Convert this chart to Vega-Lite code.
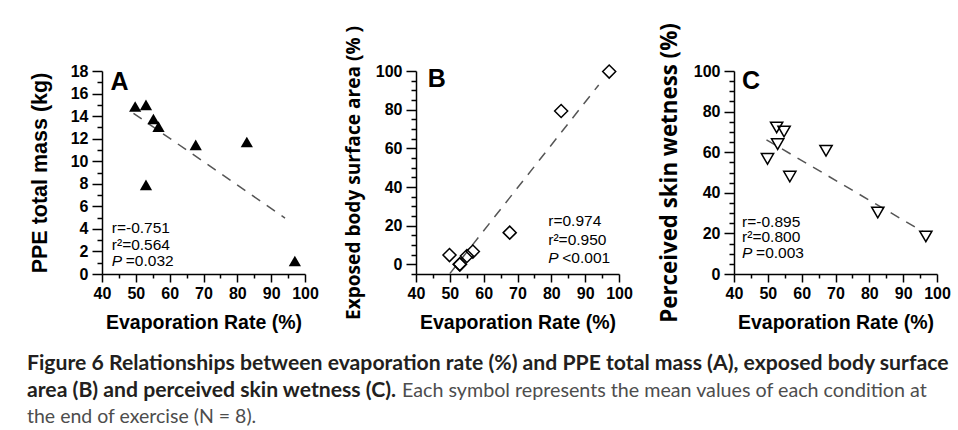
{
  "$schema": "https://vega.github.io/schema/vega-lite/v6.json",
  "background": "white",
  "padding": {"left": 27, "top": 22, "right": 0, "bottom": 0},
  "datasets": {
    "pts": [
      {"panel": "A", "evap": 49.8, "value": 14.85},
      {"panel": "A", "evap": 53.0, "value": 15.0},
      {"panel": "A", "evap": 53.0, "value": 7.9},
      {"panel": "A", "evap": 55.2, "value": 13.75},
      {"panel": "A", "evap": 56.7, "value": 13.07},
      {"panel": "A", "evap": 67.7, "value": 11.45},
      {"panel": "A", "evap": 82.8, "value": 11.7},
      {"panel": "A", "evap": 97.0, "value": 1.15},
      {"panel": "B", "evap": 49.9, "value": 4.8},
      {"panel": "B", "evap": 52.9, "value": 0.0},
      {"panel": "B", "evap": 53.0, "value": 0.0},
      {"panel": "B", "evap": 55.05, "value": 4.3},
      {"panel": "B", "evap": 56.8, "value": 6.6},
      {"panel": "B", "evap": 67.7, "value": 16.4},
      {"panel": "B", "evap": 82.9, "value": 79.3},
      {"panel": "B", "evap": 97.1, "value": 99.7},
      {"panel": "C", "evap": 49.9, "value": 56.7},
      {"panel": "C", "evap": 52.6, "value": 72.2},
      {"panel": "C", "evap": 52.9, "value": 64.0},
      {"panel": "C", "evap": 54.8, "value": 70.2},
      {"panel": "C", "evap": 56.5, "value": 48.0},
      {"panel": "C", "evap": 67.2, "value": 60.7},
      {"panel": "C", "evap": 82.5, "value": 30.3},
      {"panel": "C", "evap": 96.7, "value": 18.5}
    ],
    "fit": [
      {"panel": "A", "evap": 49.3, "value": 14.25},
      {"panel": "A", "evap": 94.1, "value": 4.96},
      {"panel": "B", "evap": 50.0, "value": -4.8},
      {"panel": "B", "evap": 94.0, "value": 92.8},
      {"panel": "C", "evap": 49.6, "value": 66.1},
      {"panel": "C", "evap": 95.7, "value": 21.0}
    ],
    "caption": [
      {"line": 1, "part": "lead", "text": "Figure 6 Relationships between evaporation rate (%) and PPE total mass (A), exposed body surface"},
      {"line": 2, "part": "lead", "text": "area (B) and perceived skin wetness (C)."},
      {"line": 2, "part": "body", "text": "Each symbol represents the mean values of each condition at"},
      {"line": 3, "part": "body", "text": "the end of exercise (N = 8)."}
    ]
  },
  "vconcat": [
    {
      "hconcat": [
        {
          "width": 203, "height": 203,
          "resolve": {"axis": {"x": "independent", "y": "independent"}},
          "layer": [
            {
              "data": {"name": "fit"},
              "transform": [{"filter": "datum.panel === 'A'"}],
              "mark": {"type": "line", "strokeDash": [10, 8], "color": "#555555", "strokeWidth": 1.5},
              "encoding": {
                "x": {"field": "evap", "type": "quantitative", "scale": {"domain": [40, 100], "nice": false, "zero": false},
                  "axis": {"orient": "bottom", "title": "Evaporation Rate (%)", "values": [40,50,60,70,80,90,100], "tickSize": 8, "labelPadding": 3, "titlePadding": 12}},
                "y": {"field": "value", "type": "quantitative", "scale": {"domain": [0, 18], "nice": false, "zero": false},
                  "axis": {"orient": "left", "title": "PPE total mass (kg)", "titleFont": "Liberation Sans", "titleFontSize": 21.5, "titlePadding": 18.5, "values": [0,2,4,6,8,10,12,14,16,18], "tickSize": 10, "labelPadding": 4}}
              }
            },
            {
              "data": {"name": "pts"},
              "transform": [{"filter": "datum.panel === 'A'"}],
              "mark": {"type": "point", "shape": "triangle-up", "filled": true, "color": "black", "opacity": 1, "size": 150},
              "encoding": {
                "x": {"field": "evap", "type": "quantitative", "axis": {"orient": "bottom", "values": [45,55,65,75,85,95], "tickSize": 4, "labels": false, "domain": false, "title": null}},
                "y": {"field": "value", "type": "quantitative", "axis": {"orient": "left", "values": [1,3,5,7,9,11,13,15,17], "tickSize": 5, "labels": false, "domain": false, "title": null}}
              }
            },
            {
              "data": {"values": [{}]},
              "mark": {"type": "text", "text": "A", "font": "Liberation Sans", "fontSize": 25, "fontWeight": "bold", "align": "left", "baseline": "middle", "color": "black"},
              "encoding": {"x": {"datum": 42.5, "type": "quantitative", "axis": null}, "y": {"datum": 17.0, "type": "quantitative", "axis": null}}
            },
            {
              "data": {"values": [{}]},
              "mark": {"type": "text", "text": "r=-0.751", "font": "Liberation Sans", "fontSize": 15.5, "align": "left", "baseline": "middle", "color": "black"},
              "encoding": {"x": {"datum": 42.9, "type": "quantitative", "axis": null}, "y": {"datum": 4.07, "type": "quantitative", "axis": null}}
            },
            {
              "data": {"values": [{}]},
              "mark": {"type": "text", "text": "r²=0.564", "font": "Liberation Sans", "fontSize": 15.5, "align": "left", "baseline": "middle", "color": "black"},
              "encoding": {"x": {"datum": 42.9, "type": "quantitative", "axis": null}, "y": {"datum": 2.6, "type": "quantitative", "axis": null}}
            },
            {
              "data": {"values": [{}]},
              "mark": {"type": "text", "text": "P", "font": "Liberation Sans", "fontSize": 15.5, "fontStyle": "italic", "align": "left", "baseline": "middle", "color": "black"},
              "encoding": {"x": {"datum": 42.9, "type": "quantitative", "axis": null}, "y": {"datum": 1.12, "type": "quantitative", "axis": null}}
            },
            {
              "data": {"values": [{}]},
              "mark": {"type": "text", "text": "=0.032", "font": "Liberation Sans", "fontSize": 15.5, "align": "left", "baseline": "middle", "dx": 14, "color": "black"},
              "encoding": {"x": {"datum": 42.9, "type": "quantitative", "axis": null}, "y": {"datum": 1.12, "type": "quantitative", "axis": null}}
            }
          ]
        },
        {
          "width": 203, "height": 203,
          "resolve": {"axis": {"x": "independent", "y": "independent"}},
          "layer": [
            {
              "data": {"name": "fit"},
              "transform": [{"filter": "datum.panel === 'B'"}],
              "mark": {"type": "line", "strokeDash": [10, 8], "color": "#555555", "strokeWidth": 1.5},
              "encoding": {
                "x": {"field": "evap", "type": "quantitative", "scale": {"domain": [40, 100], "nice": false, "zero": false},
                  "axis": {"orient": "bottom", "title": "Evaporation Rate (%)", "values": [40,50,60,70,80,90,100], "tickSize": 8, "labelPadding": 3, "titlePadding": 12}},
                "y": {"field": "value", "type": "quantitative", "scale": {"domain": [-5, 100], "nice": false, "zero": false},
                  "axis": {"orient": "left", "title": "Exposed body surface area (% )", "titleFont": "Open Sans", "titleFontSize": 19.1, "titlePadding": 12, "values": [0,20,40,60,80,100], "tickSize": 10, "labelPadding": 4}}
              }
            },
            {
              "data": {"name": "pts"},
              "transform": [{"filter": "datum.panel === 'B'"}],
              "mark": {"type": "point", "shape": "diamond", "filled": false, "color": "black", "strokeWidth": 1.5, "opacity": 1, "size": 170},
              "encoding": {
                "x": {"field": "evap", "type": "quantitative", "axis": {"orient": "bottom", "values": [45,55,65,75,85,95], "tickSize": 4, "labels": false, "domain": false, "title": null}},
                "y": {"field": "value", "type": "quantitative", "axis": {"orient": "left", "values": [-5,5,10,15,25,30,35,45,50,55,65,70,75,85,90,95], "tickSize": 5, "labels": false, "domain": false, "title": null}}
              }
            },
            {
              "data": {"values": [{}]},
              "mark": {"type": "text", "text": "B", "font": "Liberation Sans", "fontSize": 25, "fontWeight": "bold", "align": "left", "baseline": "middle", "color": "black"},
              "encoding": {"x": {"datum": 43.5, "type": "quantitative", "axis": null}, "y": {"datum": 95.7, "type": "quantitative", "axis": null}}
            },
            {
              "data": {"values": [{}]},
              "mark": {"type": "text", "text": "r=0.974", "font": "Liberation Sans", "fontSize": 15.5, "align": "left", "baseline": "middle", "color": "black"},
              "encoding": {"x": {"datum": 79.1, "type": "quantitative", "axis": null}, "y": {"datum": 22.4, "type": "quantitative", "axis": null}}
            },
            {
              "data": {"values": [{}]},
              "mark": {"type": "text", "text": "r²=0.950", "font": "Liberation Sans", "fontSize": 15.5, "align": "left", "baseline": "middle", "color": "black"},
              "encoding": {"x": {"datum": 79.1, "type": "quantitative", "axis": null}, "y": {"datum": 12.6, "type": "quantitative", "axis": null}}
            },
            {
              "data": {"values": [{}]},
              "mark": {"type": "text", "text": "P", "font": "Liberation Sans", "fontSize": 15.5, "fontStyle": "italic", "align": "left", "baseline": "middle", "color": "black"},
              "encoding": {"x": {"datum": 79.1, "type": "quantitative", "axis": null}, "y": {"datum": 3.1, "type": "quantitative", "axis": null}}
            },
            {
              "data": {"values": [{}]},
              "mark": {"type": "text", "text": "<0.001", "font": "Liberation Sans", "fontSize": 15.5, "align": "left", "baseline": "middle", "dx": 14, "color": "black"},
              "encoding": {"x": {"datum": 79.1, "type": "quantitative", "axis": null}, "y": {"datum": 3.1, "type": "quantitative", "axis": null}}
            }
          ]
        },
        {
          "width": 203, "height": 203,
          "resolve": {"axis": {"x": "independent", "y": "independent"}},
          "layer": [
            {
              "data": {"name": "fit"},
              "transform": [{"filter": "datum.panel === 'C'"}],
              "mark": {"type": "line", "strokeDash": [10, 8], "color": "#555555", "strokeWidth": 1.5},
              "encoding": {
                "x": {"field": "evap", "type": "quantitative", "scale": {"domain": [40, 100], "nice": false, "zero": false},
                  "axis": {"orient": "bottom", "title": "Evaporation Rate (%)", "values": [40,50,60,70,80,90,100], "tickSize": 8, "labelPadding": 3, "titlePadding": 12}},
                "y": {"field": "value", "type": "quantitative", "scale": {"domain": [0, 100], "nice": false, "zero": false},
                  "axis": {"orient": "left", "title": "Perceived skin wetness (%)", "titleFont": "Open Sans", "titleFontSize": 22.3, "titlePadding": 12, "values": [0,20,40,60,80,100], "tickSize": 10, "labelPadding": 4}}
              }
            },
            {
              "data": {"name": "pts"},
              "transform": [{"filter": "datum.panel === 'C'"}],
              "mark": {"type": "point", "shape": "triangle-down", "filled": false, "color": "black", "strokeWidth": 1.5, "opacity": 1, "size": 150},
              "encoding": {
                "x": {"field": "evap", "type": "quantitative", "axis": {"orient": "bottom", "values": [45,55,65,75,85,95], "tickSize": 4, "labels": false, "domain": false, "title": null}},
                "y": {"field": "value", "type": "quantitative", "axis": {"orient": "left", "values": [5,10,15,25,30,35,45,50,55,65,70,75,85,90,95], "tickSize": 5, "labels": false, "domain": false, "title": null}}
              }
            },
            {
              "data": {"values": [{}]},
              "mark": {"type": "text", "text": "C", "font": "Liberation Sans", "fontSize": 25, "fontWeight": "bold", "align": "left", "baseline": "middle", "color": "black"},
              "encoding": {"x": {"datum": 42.4, "type": "quantitative", "axis": null}, "y": {"datum": 95.2, "type": "quantitative", "axis": null}}
            },
            {
              "data": {"values": [{}]},
              "mark": {"type": "text", "text": "r=-0.895", "font": "Liberation Sans", "fontSize": 15.5, "align": "left", "baseline": "middle", "color": "black"},
              "encoding": {"x": {"datum": 42.4, "type": "quantitative", "axis": null}, "y": {"datum": 25.6, "type": "quantitative", "axis": null}}
            },
            {
              "data": {"values": [{}]},
              "mark": {"type": "text", "text": "r²=0.800", "font": "Liberation Sans", "fontSize": 15.5, "align": "left", "baseline": "middle", "color": "black"},
              "encoding": {"x": {"datum": 42.4, "type": "quantitative", "axis": null}, "y": {"datum": 18.1, "type": "quantitative", "axis": null}}
            },
            {
              "data": {"values": [{}]},
              "mark": {"type": "text", "text": "P", "font": "Liberation Sans", "fontSize": 15.5, "fontStyle": "italic", "align": "left", "baseline": "middle", "color": "black"},
              "encoding": {"x": {"datum": 42.4, "type": "quantitative", "axis": null}, "y": {"datum": 10.3, "type": "quantitative", "axis": null}}
            },
            {
              "data": {"values": [{}]},
              "mark": {"type": "text", "text": "=0.003", "font": "Liberation Sans", "fontSize": 15.5, "align": "left", "baseline": "middle", "dx": 14, "color": "black"},
              "encoding": {"x": {"datum": 42.4, "type": "quantitative", "axis": null}, "y": {"datum": 10.3, "type": "quantitative", "axis": null}}
            }
          ]
        }
      ],
      "spacing": 25
    },
    {
      "width": 850, "height": 79,
      "data": {"name": "caption"},
      "encoding": {
        "y": {"field": "line", "type": "ordinal", "axis": null, "scale": {"type": "point", "padding": 0.5}},
        "x": {"value": 0},
        "text": {"field": "text"}
      },
      "layer": [
        {
          "transform": [{"filter": "datum.part === 'lead'"}],
          "mark": {"type": "text", "font": "Lato", "fontSize": 21.2, "fontWeight": "bold", "align": "left", "baseline": "middle", "color": "#231f20", "dx": -75}
        },
        {
          "transform": [{"filter": "datum.part === 'body' && datum.line === 2"}],
          "mark": {"type": "text", "font": "Lato", "fontSize": 19.7, "align": "left", "baseline": "middle", "color": "#4d4d4d", "dx": 300}
        },
        {
          "transform": [{"filter": "datum.part === 'body' && datum.line === 3"}],
          "mark": {"type": "text", "font": "Lato", "fontSize": 19.5, "align": "left", "baseline": "middle", "color": "#4d4d4d", "dx": -75}
        }
      ]
    }
  ],
  "align": "none",
  "spacing": 19,
  "config": {
    "view": {"stroke": null},
    "axis": {
      "grid": false,
      "domainColor": "black", "domainWidth": 1.5,
      "tickColor": "black", "tickWidth": 1.5,
      "labelColor": "black", "labelFont": "Liberation Sans", "labelFontSize": 16, "labelFontWeight": "bold",
      "labelFlush": false, "labelOverlap": false,
      "titleColor": "black", "titleFont": "Liberation Sans", "titleFontSize": 19.5, "titleFontWeight": "bold"
    }
  }
}
